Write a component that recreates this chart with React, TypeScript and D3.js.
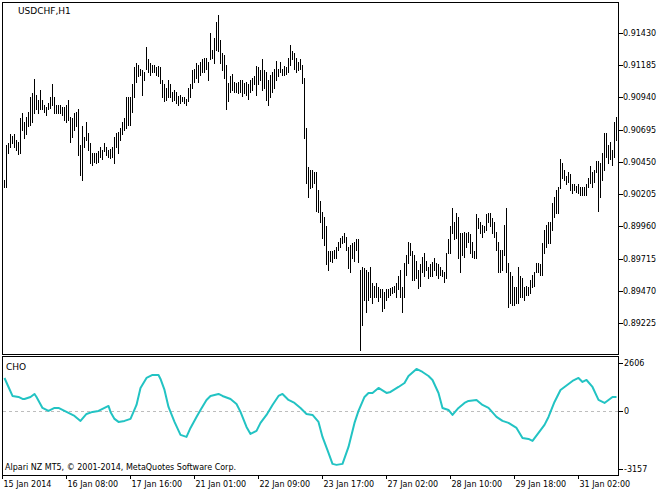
import React from "react";
import * as d3 from "d3";

const symbolTitle = "USDCHF,H1";
const indicatorTitle = "CHO";
const copyright = "Alpari NZ MT5, \u00A9 2001-2014, MetaQuotes Software Corp.";

// hourly bar highs / lows (bar 0 = first visible bar after the 15 Jan 00:00 bar)
const highs = [
  0.9031,0.9058,0.9059,0.9066,0.9065,0.9066,0.9062,0.9060,0.9078,0.9082,
  0.9075,0.9079,0.9083,0.9094,0.9097,0.9108,0.9096,0.9092,0.9100,0.9092,
  0.9088,0.9087,0.9090,0.9094,0.9104,0.9094,0.9088,0.9088,0.9088,0.9087,
  0.9087,0.9088,0.9092,0.9079,0.9078,0.9082,0.9083,0.9085,0.9058,0.9072,
  0.9064,0.9075,0.9067,0.9059,0.9052,0.9052,0.9052,0.9053,0.9056,0.9054,
  0.9059,0.9056,0.9054,0.9055,0.9056,0.9064,0.9067,0.9068,0.9071,0.9075,
  0.9078,0.9094,0.9094,0.9094,0.9104,0.9117,0.9120,0.9119,0.9116,0.9115,
  0.9113,0.9132,0.9123,0.9120,0.9119,0.9119,0.9117,0.9118,0.9117,0.9107,
  0.9104,0.9101,0.9107,0.9104,0.9098,0.9100,0.9098,0.9095,0.9096,0.9094,
  0.9094,0.9093,0.9101,0.9104,0.9115,0.9116,0.9120,0.9119,0.9121,0.9123,
  0.9124,0.9124,0.9121,
  0.9143,0.9130,0.9139,0.9151,0.9157,0.9138,0.9128,0.9126,0.9119,0.9105,
  0.9110,0.9112,0.9106,0.9105,0.9106,0.9107,0.9107,0.9105,0.9106,0.9104,
  0.9107,0.9109,0.9110,0.9118,0.9117,0.9115,0.9123,0.9115,0.9113,0.9107,
  0.9111,0.9113,0.9116,0.9122,0.9116,0.9121,0.9116,0.9118,0.9117,0.9124,
  0.9134,0.9129,0.9128,0.9124,0.9121,0.9123,0.9119,0.9109,0.9071,0.9041,
  0.9039,0.9039,0.9037,0.9037,0.9024,0.9015,0.9007,0.9003,0.8996,0.8977,
  0.8977,0.8977,0.8978,0.8980,0.8984,0.8987,0.8989,0.8991,0.8988,0.8980,
  0.8982,0.8983,0.8984,0.8986,0.8986,0.8963,0.8965,0.8964,0.8963,0.8961,
  0.8965,0.8953,0.8951,0.8953,0.8950,0.8948,0.8948,0.8946,0.8948,0.8948,
  0.8949,0.8950,0.8951,0.8953,0.8958,0.8963,0.8950,0.8968,0.8974,0.8984,
  0.8983,0.8977,0.8974,
  0.8970,0.8963,0.8967,0.8973,0.8976,0.8970,0.8965,0.8967,0.8969,0.8972,
  0.8968,0.8967,0.8965,0.8963,0.8961,0.8976,0.8986,0.8996,0.9010,0.8999,
  0.9006,0.9003,0.8991,0.8991,0.8992,0.8991,0.8992,0.8990,0.8984,0.8977,
  0.9005,0.9002,0.8999,0.8997,0.8996,0.9005,0.9006,0.9006,0.9002,0.8999,
  0.8992,0.8984,0.8978,0.8978,0.8997,0.9010,0.8968,0.8961,0.8958,0.8950,
  0.8950,0.8965,0.8958,0.8957,0.8950,0.8951,0.8950,0.8955,0.8959,0.8961,
  0.8968,0.8968,0.8967,0.8983,0.8993,0.8997,0.8999,0.8999,0.9014,0.9018,
  0.9024,0.9026,0.9047,0.9044,0.9039,0.9034,0.9037,0.9036,0.9028,0.9028,
  0.9027,0.9028,0.9026,0.9026,0.9026,0.9028,0.9033,0.9042,0.9037,0.9039,
  0.9046,0.9046,0.9044,0.9052,0.9067,0.9067,0.9058,0.9060,0.9054,0.9075,
  0.9079,
];

const lows = [
  0.9026,0.9026,0.9052,0.9056,0.9059,0.9056,0.9054,0.9051,0.9052,0.9069,
  0.9063,0.9066,0.9072,0.9073,0.9075,0.9082,0.9085,0.9082,0.9085,0.9085,
  0.9083,0.9081,0.9085,0.9086,0.9088,0.9082,0.9082,0.9082,0.9082,0.9081,
  0.9077,0.9075,0.9077,0.9060,0.9064,0.9069,0.9072,0.9050,0.9035,0.9031,
  0.9056,0.9062,0.9054,0.9044,0.9043,0.9045,0.9044,0.9045,0.9049,0.9047,
  0.9053,0.9050,0.9049,0.9048,0.9049,0.9044,0.9056,0.9052,0.9062,0.9066,
  0.9069,0.9071,0.9073,0.9073,0.9083,0.9094,0.9106,0.9110,0.9111,0.9096,
  0.9107,0.9116,0.9113,0.9111,0.9113,0.9113,0.9111,0.9110,0.9105,0.9094,
  0.9091,0.9092,0.9094,0.9094,0.9091,0.9092,0.9090,0.9088,0.9090,0.9091,
  0.9090,0.9088,0.9091,0.9094,0.9101,0.9106,0.9109,0.9106,0.9111,0.9113,
  0.9113,0.9116,0.9107,
  0.9123,0.9124,0.9120,0.9130,0.9129,0.9120,0.9115,0.9109,0.9085,0.9091,
  0.9098,0.9100,0.9098,0.9098,0.9097,0.9098,0.9095,0.9097,0.9096,0.9093,
  0.9098,0.9100,0.9104,0.9096,0.9104,0.9107,0.9100,0.9101,0.9092,0.9088,
  0.9094,0.9098,0.9101,0.9107,0.9110,0.9113,0.9111,0.9111,0.9112,0.9113,
  0.9119,0.9123,0.9116,0.9113,0.9115,0.9116,0.9105,0.9063,0.9029,0.9018,
  0.9025,0.9026,0.9029,0.9008,0.9007,0.8999,0.8987,0.8982,0.8967,0.8963,
  0.8970,0.8969,0.8972,0.8972,0.8978,0.8980,0.8983,0.8984,0.8978,0.8964,
  0.8961,0.8972,0.8970,0.8978,0.8969,0.8902,0.8921,0.8940,0.8931,0.8940,
  0.8942,0.8938,0.8942,0.8942,0.8939,0.8942,0.8932,0.8934,0.8940,0.8942,
  0.8944,0.8945,0.8946,0.8942,0.8948,0.8942,0.8931,0.8942,0.8959,0.8968,
  0.8974,0.8955,0.8955,
  0.8957,0.8949,0.8951,0.8961,0.8958,0.8963,0.8957,0.8958,0.8958,0.8963,
  0.8959,0.8957,0.8959,0.8958,0.8954,0.8957,0.8976,0.8976,0.8991,0.8986,
  0.8987,0.8972,0.8961,0.8974,0.8973,0.8980,0.8984,0.8976,0.8973,0.8972,
  0.8972,0.8995,0.8991,0.8988,0.8992,0.8993,0.8999,0.8996,0.8991,0.8988,
  0.8978,0.8961,0.8961,0.8963,0.8974,0.8961,0.8935,0.8938,0.8936,0.8936,
  0.8938,0.8938,0.8942,0.8942,0.8940,0.8944,0.8944,0.8945,0.8950,0.8951,
  0.8961,0.8961,0.8959,0.8959,0.8976,0.8980,0.8983,0.8983,0.8993,0.9003,
  0.9006,0.9006,0.9025,0.9033,0.9031,0.9028,0.9030,0.9024,0.9021,0.9024,
  0.9022,0.9021,0.9020,0.9020,0.9020,0.9020,0.9026,0.9029,0.9026,0.9030,
  0.9037,0.9008,0.9018,0.9031,0.9039,0.9049,0.9044,0.9047,0.9043,0.9049,
  0.9062,
];

// Chaikin oscillator, sampled at bar indices
const choIndex = [
  0,2,4,7,9,10,13,15,16,19,22,25,27,29,32,35,38,41,44,47,
  49,52,53,55,57,60,63,66,68,71,74,77,78,80,82,85,88,91,93,96,
  98,101,103,107,109,113,116,118,121,123,126,128,131,134,137,139,142,145,148,151,
  154,157,159,162,164,166,169,172,175,177,180,182,184,187,191,193,197,200,202,206,
  209,212,214,217,219,222,224,227,230,232,236,239,242,246,249,252,256,259,262,264,
  267,270,272,275,278,282,284,287,289,291,294,297,300,302,304,306,
];
const choValue = [
  1792,1300,815,760,652,652,760,923,760,163,0,163,163,54,-109,-272,-543,-163,-54,0,
  109,272,-54,-434,-597,-543,-434,326,1249,1792,1955,1955,1738,1140,217,-597,-1303,-1412,-923,-326,
  54,597,815,923,815,652,380,-54,-869,-1249,-1086,-652,-217,326,815,923,597,434,163,-163,
  -217,-597,-1412,-2281,-2878,-2932,-2878,-1955,-652,0,760,977,977,1249,977,1032,1303,1520,1901,2281,
  2118,1901,1683,977,163,54,-217,163,434,543,597,326,163,-326,-543,-652,-923,-1466,-1520,-1629,
  -1195,-760,-326,489,1140,1466,1629,1792,1575,1683,1303,597,434,597,760,760,
];

const timeTickIndex = [-1, 31, 63, 95, 127, 159, 191, 223, 255, 287];
const timeTickLabels = [
  "15 Jan 2014", "16 Jan 08:00", "17 Jan 16:00", "21 Jan 01:00", "22 Jan 09:00",
  "23 Jan 17:00", "27 Jan 02:00", "28 Jan 10:00", "29 Jan 18:00", "31 Jan 02:00",
];
const priceTicks = [0.9143, 0.91185, 0.9094, 0.90695, 0.9045, 0.90205, 0.8996, 0.89715, 0.8947, 0.89225];
const choTicks = [2606, 0, -3157];

const W = 670;
const H = 495;
const FONT = "'DejaVu Sans', Tahoma, sans-serif";

export default function App() {
  const left = 2, right = 618;
  const mainTop = 2, mainBottom = 354;
  const subTop = 356, subBottom = 475;

  const x = d3.scaleLinear().domain([-1, 306]).range([2, 616]);
  const y = d3.scaleLinear().domain([0.89225, 0.9143]).range([323, 33]);
  const yc = d3.scaleLinear().domain([-3157, 2606]).range([469, 363]);

  const choPts: [number, number][] = choIndex.map((i, k) => [x(i) + 0.5, yc(choValue[k])]);
  const line = d3.line<[number, number]>().x((d) => d[0]).y((d) => d[1]);

  return (
    <svg width={W} height={H} style={{ position: "absolute", left: 0, top: 0, background: "#fff" }}
      fontFamily={FONT}>
      <rect x={0} y={0} width={W} height={H} fill="#fff" />
      {/* bars */}
      <g stroke="#000" strokeWidth={1} shapeRendering="crispEdges">
        {highs.map((h, i) => (
          <line key={i} x1={x(i) + 0.5} x2={x(i) + 0.5} y1={Math.round(y(h))} y2={Math.round(y(lows[i])) + 1} />
        ))}
      </g>
      {/* frames */}
      <rect x={left + 0.5} y={mainTop + 0.5} width={right - left} height={mainBottom - mainTop}
        fill="none" stroke="#000" shapeRendering="crispEdges" />
      <rect x={left + 0.5} y={subTop + 0.5} width={right - left} height={subBottom - subTop}
        fill="none" stroke="#000" shapeRendering="crispEdges" />
      {/* price axis */}
      {priceTicks.map((p) => {
        const py = Math.round(y(p)) + 0.5;
        return (
          <g key={p}>
            <line x1={right + 0.5} x2={right + 4.5} y1={py} y2={py} stroke="#000" shapeRendering="crispEdges" />
            <text x={right + 5} y={py} dy="0.35em" fontSize={8} fill="#000">{p.toFixed(5)}</text>
          </g>
        );
      })}
      {/* indicator */}
      <line x1={left + 1} x2={right} y1={Math.round(yc(0)) + 0.5} y2={Math.round(yc(0)) + 0.5}
        stroke="#bdbdbd" strokeDasharray="3,3" shapeRendering="crispEdges" />
      <path d={line(choPts) || ""} fill="none" stroke="#22C3C3" strokeWidth={2} strokeLinejoin="round" />
      {choTicks.map((v) => {
        const py = Math.round(yc(v)) + 0.5;
        return (
          <g key={v}>
            <line x1={right + 0.5} x2={right + 4.5} y1={py} y2={py} stroke="#000" shapeRendering="crispEdges" />
            <text x={right + 6} y={py} dy="0.35em" fontSize={8} fill="#000">{v}</text>
          </g>
        );
      })}
      {/* time axis */}
      {timeTickIndex.map((i, k) => {
        const tx = Math.round(x(i)) + 0.5;
        return (
          <g key={i}>
            <line x1={tx} x2={tx} y1={subBottom} y2={subBottom + 4} stroke="#000" shapeRendering="crispEdges" />
            <text x={tx + 1} y={487} fontSize={8} fill="#000">{timeTickLabels[k]}</text>
          </g>
        );
      })}
      {/* texts */}
      <text x={18} y={13.5} fontSize={9} fill="#000">{symbolTitle}</text>
      <text x={6} y={369.5} fontSize={9} fill="#000">{indicatorTitle}</text>
      <text x={5} y={470} fontSize={8} fill="#000">{copyright}</text>
    </svg>
  );
}
